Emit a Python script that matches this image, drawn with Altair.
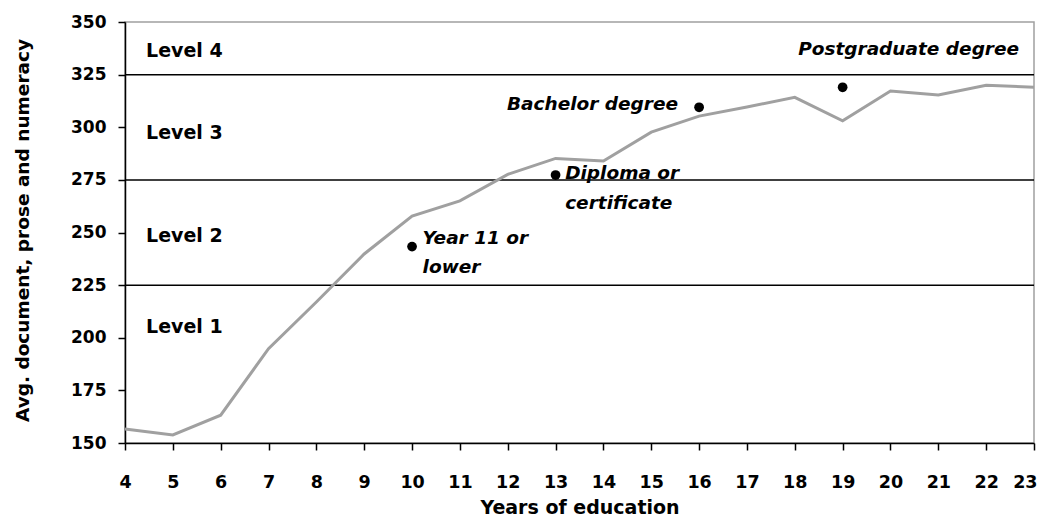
import altair as alt
import pandas as pd

years = list(range(4, 24))
scores = [156.7, 153.8, 163.2, 194.8, 217.0, 239.8, 257.8, 265.0, 277.6, 285.2,
          284.0, 297.7, 305.3, 309.6, 314.2, 303.1, 317.2, 315.3, 319.9, 319.0]

point_years = [10, 13, 16, 19]
point_scores = [243.3, 277.3, 309.5, 319.0]

level_bounds = [225, 275, 325]
level_names = ["Level 4", "Level 3", "Level 2", "Level 1"]
level_x = [4.44, 4.44, 4.44, 4.44]
level_y = [336.2, 297.3, 248.3, 205.2]

left_labels = ["Postgraduate degree", "Diploma or", "certificate", "Year 11 or", "lower"]
left_x = [18.07, 13.2, 13.2, 10.22, 10.22]
left_y = [337.4, 278.1, 264.2, 247.4, 233.8]

right_labels = ["Bachelor degree"]
right_x = [15.56]
right_y = [311.0]

FONT = "DejaVu Sans"

line_df = pd.DataFrame({"year": years, "score": scores})
pts_df = pd.DataFrame({"year": point_years, "score": point_scores})
rule_df = pd.DataFrame({"y": level_bounds})
lvl_df = pd.DataFrame({"x": level_x, "y": level_y, "t": level_names})
ll_df = pd.DataFrame({"x": left_x, "y": left_y, "t": left_labels})
rl_df = pd.DataFrame({"x": right_x, "y": right_y, "t": right_labels})

xscale = alt.Scale(domain=[4, 23], nice=False, zero=False)
yscale = alt.Scale(domain=[150, 350], nice=False, zero=False)

xaxis = alt.Axis(
    values=years, title="Years of education", grid=False,
    domainColor="black", domainWidth=1.5, tickColor="black", tickWidth=1.5, tickSize=7,
    labelFont=FONT, labelFontWeight="bold", labelFontSize=17.5, labelColor="black",
    labelPadding=23, labelFlush=False,
    labelAlign={"condition": {"test": "datum.value == 23", "value": "right"}, "value": "center"},
    labelOffset={"condition": {"test": "datum.value == 23", "value": 3}, "value": 0},
    titleFont=FONT, titleFontWeight="bold", titleFontSize=19, titleColor="black",
    titleBaseline="alphabetic", titleY=70.5,
)
yaxis = alt.Axis(
    values=list(range(150, 351, 25)), title="Avg. document, prose and numeracy", grid=False,
    domainColor="black", domainWidth=1.5, tickColor="black", tickWidth=1.5, tickSize=7,
    labelFont=FONT, labelFontWeight="bold", labelFontSize=17, labelColor="black",
    labelPadding=12, labelFlush=False,
    titleFont=FONT, titleFontWeight="bold", titleFontSize=18.5, titleColor="black",
    titleAngle=-90, titleBaseline="middle", titleX=-103, titleY=208,
)

rules = alt.Chart(rule_df).mark_rule(color="black", strokeWidth=1.5).encode(
    y=alt.Y("y:Q", scale=yscale, axis=yaxis)
)

line = alt.Chart(line_df).mark_line(color="#a0a0a0", strokeWidth=3).encode(
    x=alt.X("year:Q", scale=xscale, axis=xaxis),
    y=alt.Y("score:Q", scale=yscale),
)

pts = alt.Chart(pts_df).mark_circle(color="black", opacity=1, size=95).encode(
    x=alt.X("year:Q", scale=xscale),
    y=alt.Y("score:Q", scale=yscale),
)

lvl = alt.Chart(lvl_df).mark_text(
    font=FONT, fontWeight="bold", fontSize=19, align="left", baseline="middle", color="black"
).encode(x=alt.X("x:Q", scale=xscale), y=alt.Y("y:Q", scale=yscale), text="t:N")

ll = alt.Chart(ll_df).mark_text(
    font=FONT, fontWeight="bold", fontStyle="italic", fontSize=18.5, align="left",
    baseline="middle", color="black"
).encode(x=alt.X("x:Q", scale=xscale), y=alt.Y("y:Q", scale=yscale), text="t:N")

rl = alt.Chart(rl_df).mark_text(
    font=FONT, fontWeight="bold", fontStyle="italic", fontSize=18.5, align="right",
    baseline="middle", color="black"
).encode(x=alt.X("x:Q", scale=xscale), y=alt.Y("y:Q", scale=yscale), text="t:N")

chart = alt.layer(rules, line, pts, lvl, ll, rl).properties(
    width=909, height=421,
    autosize=alt.AutoSizeParams(type="none"),
    padding={"left": 117, "top": 14, "right": 4, "bottom": 75},
    background="white",
).configure_view(stroke="#a0a0a0", strokeWidth=1.5)

chart.save("out.html", embed_options={"renderer": "svg", "actions": False})
